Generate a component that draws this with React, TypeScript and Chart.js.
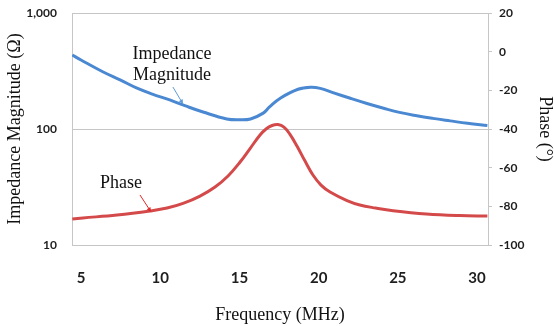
import React, { useEffect, useRef } from "react";
import { Chart, registerables } from "chart.js";

Chart.register(...registerables);

// ---- Data ----
const FREQ_IMP = [4.45, 5.0, 6.4, 7.5, 8.5, 9.5, 10.6, 11.6, 12.7, 14.2, 15.0, 15.7, 16.5, 16.9, 17.6, 18.7, 19.5, 20.1, 20.9, 22.0, 23.05, 24.1, 25.1, 26.2, 27.2, 28.3, 29.4, 30.65];
const IMPEDANCE = [434, 393, 310, 264, 226, 200, 178, 158, 140, 122, 120, 122, 137, 155, 185, 220, 229, 224, 206, 184, 166, 151, 139, 130, 123.5, 117.5, 112, 107];

const FREQ_PHASE = [4.45, 5.12, 7.27, 9.35, 10.43, 11.44, 12.51, 13.46, 14.28, 15.04, 15.67, 16.3, 16.68, 17.06, 17.43, 17.81, 18.19, 18.63, 19.14, 19.64, 20.15, 20.72, 21.79, 22.6, 23.6, 24.7, 26.8, 28.9, 30.65];
const PHASE = [-86.5, -86.0, -84.5, -82.4, -80.9, -78.5, -74.7, -70.0, -64.3, -57.1, -50.1, -43.1, -40.0, -38.2, -37.7, -39.0, -42.8, -48.8, -56.6, -63.8, -69.0, -72.6, -77.0, -79.3, -80.9, -82.3, -84.0, -84.8, -85.0];

const X_TICKS = [5, 10, 15, 20, 25, 30];
const Y_LEFT_TICKS = [10, 100, 1000];
const Y_RIGHT_TICKS = [-100, -80, -60, -40, -20, 0, 20];

const X_TITLE = "Frequency (MHz)";
const Y_LEFT_TITLE = "Impedance Magnitude (\u03A9)";
const Y_RIGHT_TITLE = "Phase (\u00B0)";

const IMP_LABEL_LINES = ["Impedance", "Magnitude"];
const IMP_LABEL_AT = { x: 10.74, y: 401 };
const IMP_ARROW_FROM = { x: 10.8, y: 230 };
const IMP_ARROW_TO = { x: 11.44, y: 164 };

const PHASE_LABEL = "Phase";
const PHASE_LABEL_AT = { x: 7.52, y: -70.5 };
const PHASE_ARROW_FROM = { x: 8.72, y: -74.1 };
const PHASE_ARROW_TO = { x: 9.42, y: -82.9 };

const BLUE = "#4a88d2";
const RED = "#d44a4a";
const GRID = "#c6c6c6";
const TICK_COLOR = "#1e1e1e";

function drawArrow(ctx: CanvasRenderingContext2D, x0: number, y0: number, x1: number, y1: number, color: string) {
  const ang = Math.atan2(y1 - y0, x1 - x0);
  const head = 5;
  ctx.save();
  ctx.strokeStyle = color;
  ctx.fillStyle = color;
  ctx.lineWidth = 1;
  ctx.beginPath();
  ctx.moveTo(x0, y0);
  ctx.lineTo(x1 - Math.cos(ang) * head * 0.8, y1 - Math.sin(ang) * head * 0.8);
  ctx.stroke();
  ctx.beginPath();
  ctx.moveTo(x1, y1);
  ctx.lineTo(x1 - head * Math.cos(ang - 0.45), y1 - head * Math.sin(ang - 0.45));
  ctx.lineTo(x1 - head * Math.cos(ang + 0.45), y1 - head * Math.sin(ang + 0.45));
  ctx.closePath();
  ctx.fill();
  ctx.restore();
}

const annotationPlugin = {
  id: "curveLabels",
  afterDatasetsDraw(chart: any) {
    const { ctx, scales } = chart;
    const xs = scales.x;
    const yl = scales.y;
    const yr = scales.y1;
    ctx.save();
    ctx.font = '18px "Liberation Serif"';
    ctx.fillStyle = "#111";
    ctx.textAlign = "center";
    ctx.textBaseline = "alphabetic";
    const ix = xs.getPixelForValue(IMP_LABEL_AT.x);
    const iy = yl.getPixelForValue(IMP_LABEL_AT.y);
    IMP_LABEL_LINES.forEach((t, i) => ctx.fillText(t, ix, iy + i * 21));
    ctx.fillText(PHASE_LABEL, xs.getPixelForValue(PHASE_LABEL_AT.x), yr.getPixelForValue(PHASE_LABEL_AT.y));
    ctx.restore();
    drawArrow(
      ctx,
      xs.getPixelForValue(IMP_ARROW_FROM.x), yl.getPixelForValue(IMP_ARROW_FROM.y),
      xs.getPixelForValue(IMP_ARROW_TO.x), yl.getPixelForValue(IMP_ARROW_TO.y),
      "#5b9bd5"
    );
    drawArrow(
      ctx,
      xs.getPixelForValue(PHASE_ARROW_FROM.x), yr.getPixelForValue(PHASE_ARROW_FROM.y),
      xs.getPixelForValue(PHASE_ARROW_TO.x), yr.getPixelForValue(PHASE_ARROW_TO.y),
      "#e02828"
    );
  },
};

export default function App() {
  const ref = useRef<HTMLCanvasElement | null>(null);

  useEffect(() => {
    if (!ref.current) return;
    const tickFont = { family: "Lato", weight: "bold" as const, size: 12 };
    const titleFont = { family: '"Liberation Serif"', size: 18 };
    const zeroPad = (s: any) => {
      s.paddingTop = 0;
      s.paddingBottom = 0;
      s.paddingLeft = 0;
      s.paddingRight = 0;
    };
    const chart = new Chart(ref.current, {
      type: "line",
      data: {
        datasets: [
          {
            label: "Impedance Magnitude",
            data: FREQ_IMP.map((f, i) => ({ x: f, y: IMPEDANCE[i] })),
            yAxisID: "y",
            borderColor: BLUE,
            borderWidth: 3,
            pointRadius: 0,
            tension: 0.4,
          },
          {
            label: "Phase",
            data: FREQ_PHASE.map((f, i) => ({ x: f, y: PHASE[i] })),
            yAxisID: "y1",
            borderColor: RED,
            borderWidth: 3,
            pointRadius: 0,
            tension: 0.4,
          },
        ],
      },
      options: {
        responsive: false,
        animation: false,
        layout: { padding: { top: 13, left: 0, right: 0, bottom: 0 } },
        plugins: { legend: { display: false }, tooltip: { enabled: false } },
        scales: {
          x: {
            type: "linear",
            position: "bottom",
            min: 4.43,
            max: 30.69,
            afterBuildTicks: (s: any) => {
              s.ticks = X_TICKS.map((v) => ({ value: v }));
            },
            afterFit: (s: any) => {
              s.height = 81;
              zeroPad(s);
            },
            grid: { display: false, drawTicks: false },
            border: { display: false },
            ticks: { font: { ...tickFont, size: 15 }, color: TICK_COLOR, padding: 24, maxRotation: 0 },
            title: { display: true, text: X_TITLE, font: titleFont, color: "#111", padding: { top: 0, bottom: 0 } },
          },
          y: {
            type: "logarithmic",
            position: "left",
            min: 10,
            max: 1000,
            afterBuildTicks: (s: any) => {
              s.ticks = Y_LEFT_TICKS.map((v) => ({ value: v, major: true }));
            },
            afterFit: (s: any) => {
              s.width = 72;
              zeroPad(s);
            },
            grid: { color: GRID, lineWidth: 1, drawTicks: false },
            border: { display: true, color: GRID, width: 1 },
            ticks: {
              font: tickFont,
              color: TICK_COLOR,
              padding: 15,
              autoSkip: false,
              callback: (v: any) => Number(v).toLocaleString("en-US"),
            },
            title: { display: true, text: Y_LEFT_TITLE, font: titleFont, color: "#111", padding: { top: 4, bottom: 0 } },
          },
          y1: {
            type: "linear",
            position: "right",
            min: -100,
            max: 20,
            afterBuildTicks: (s: any) => {
              s.ticks = Y_RIGHT_TICKS.map((v) => ({ value: v }));
            },
            afterFit: (s: any) => {
              s.width = 66;
              zeroPad(s);
            },
            grid: { drawOnChartArea: false, drawTicks: true, tickLength: 4, color: GRID },
            border: { display: true, color: GRID, width: 1 },
            ticks: { font: tickFont, color: TICK_COLOR, padding: 7, autoSkip: false },
            title: {
              display: true,
              text: Y_RIGHT_TITLE,
              font: { ...titleFont, lineHeight: 1 },
              color: "#111",
              padding: { top: 0, bottom: 0 },
            },
          },
        },
      },
      plugins: [annotationPlugin],
    });
    return () => chart.destroy();
  }, []);

  return (
    <div style={{ position: "absolute", left: 0, top: 0, width: 554, height: 326, background: "#fff" }}>
      <canvas ref={ref} width={554} height={326} style={{ display: "block" }} />
    </div>
  );
}
